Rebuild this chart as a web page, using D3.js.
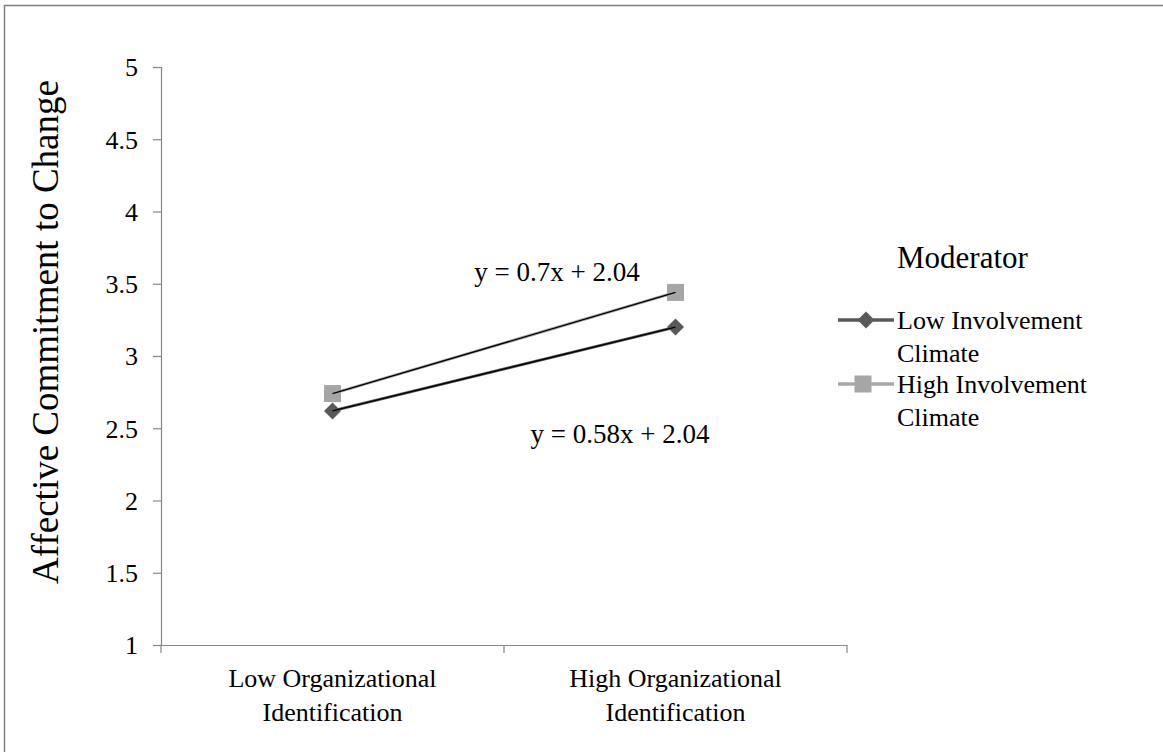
<!DOCTYPE html>
<html>
<head>
<meta charset="utf-8">
<script src="https://cdn.jsdelivr.net/npm/d3@7"></script>
<style>
  body { margin: 0; background: #fff; }
  text { font-family: "Liberation Serif", "Times New Roman", serif; fill: #000; }
</style>
</head>
<body>
<div id="chart-area"></div>
<script>
// data
var categories = ["Low Organizational|Identification", "High Organizational|Identification"];
var seriesNames = ["Low Involvement|Climate", "High Involvement|Climate"];
var lowValues = [2.62, 3.20];
var highValues = [2.74, 3.44];
var slopes = [0.58, 0.7];
var intercepts = [2.04, 2.04];
var yTicks = [1, 1.5, 2, 2.5, 3, 3.5, 4, 4.5, 5];

var width = 1163, height = 752;
var margin = {top: 67, left: 161};
var innerWidth = 847 - 161;
var innerHeight = 645 - 67;

var svg = d3.select("#chart-area").append("svg")
  .attr("width", width)
  .attr("height", height);

// border (top and left edges only show)
svg.append("path")
  .attr("d", "M4.5," + height + "V5.5H" + width)
  .attr("fill", "none")
  .attr("stroke", "#7f7f7f")
  .attr("stroke-width", 1.5);

var g = svg.append("g")
  .attr("transform", "translate(" + margin.left + "," + margin.top + ")");

// scales
var x = d3.scaleBand().domain(categories).range([0, innerWidth]);
var y = d3.scaleLinear().domain([1, 5]).range([innerHeight, 0]);

// y axis
var yAxis = g.append("g").call(d3.axisLeft(y).tickValues(yTicks).tickSize(8).tickPadding(15)
  .tickFormat(d3.format("")));
yAxis.attr("font-family", null).attr("font-size", null);
yAxis.select(".domain").attr("stroke", "#868686").attr("stroke-width", 1.2);
yAxis.selectAll(".tick line").attr("stroke", "#868686").attr("stroke-width", 1.2);
yAxis.selectAll(".tick text").style("font-size", "26px").attr("dy", "0.34em");

// x axis
var xAxis = g.append("g").attr("transform", "translate(0," + innerHeight + ")")
  .call(d3.axisBottom(x).tickSize(0).tickFormat(""));
xAxis.attr("font-family", null).attr("font-size", null);
xAxis.select(".domain").attr("stroke", "#868686").attr("stroke-width", 1.2);
var bounds = categories.map(c => x(c)).concat([innerWidth]);
xAxis.selectAll(".bound").data(bounds).enter().append("line")
  .attr("x1", d => d).attr("x2", d => d)
  .attr("y1", 0).attr("y2", 8)
  .attr("stroke", "#868686").attr("stroke-width", 1.2);

categories.forEach(function(c) {
  var lines = c.split("|");
  var t = xAxis.append("text")
    .attr("x", x(c) + x.bandwidth() / 2)
    .attr("y", 42)
    .attr("text-anchor", "middle")
    .style("font-size", "26px");
  lines.forEach(function(l, i) {
    t.append("tspan").attr("x", x(c) + x.bandwidth() / 2).attr("dy", i ? 34 : 0).text(l);
  });
});

// axis title
g.append("text")
  .attr("transform", "translate(-103," + (innerHeight / 2 - 24) + ") rotate(-90)")
  .attr("text-anchor", "middle")
  .style("font-size", "37px")
  .text("Affective Commitment to Change");

var cx = d => x(d) + x.bandwidth() / 2;
var series = [
  {name: seriesNames[0], values: lowValues, color: "#595959", shape: "diamond"},
  {name: seriesNames[1], values: highValues, color: "#a6a6a6", shape: "square"}
];

function marker(sel, s) {
  if (s.shape === "square") {
    sel.append("rect").attr("x", -8.5).attr("y", -8.5).attr("width", 17).attr("height", 17)
      .attr("fill", s.color);
  } else {
    sel.append("rect").attr("x", -6).attr("y", -6).attr("width", 12).attr("height", 12)
      .attr("transform", "rotate(45)")
      .attr("fill", s.color);
  }
}

var line = d3.line().x(d => cx(d.c)).y(d => y(d.v));

series.forEach(function(s, i) {
  var pts = categories.map((c, j) => ({c: c, v: s.values[j]}));
  g.append("path").datum(pts)
    .attr("d", line)
    .attr("fill", "none")
    .attr("stroke", s.color)
    .attr("stroke-width", 3);
  g.selectAll(".m" + i).data(pts).enter().append("g")
    .attr("transform", d => "translate(" + cx(d.c) + "," + y(d.v) + ")")
    .each(function() { marker(d3.select(this), s); });
});

// trendlines (from equation, x = 1, 2)
series.forEach(function(s, i) {
  var pts = categories.map((c, j) => ({c: c, v: slopes[i] * (j + 1) + intercepts[i]}));
  g.append("path").datum(pts)
    .attr("d", line)
    .attr("fill", "none")
    .attr("stroke", "#000")
    .attr("stroke-width", 1.3);
});

// equation labels
svg.append("text").attr("x", 557).attr("y", 281).attr("text-anchor", "middle")
  .style("font-size", "27px").text("y = 0.7x + 2.04");
svg.append("text").attr("x", 620).attr("y", 443).attr("text-anchor", "middle")
  .style("font-size", "27px").text("y = 0.58x + 2.04");

// legend
var legend = svg.append("g").attr("transform", "translate(838,0)");
legend.append("text").attr("x", 59).attr("y", 268)
  .style("font-size", "31px").text("Moderator");

var legY = [320, 384];
series.forEach(function(s, i) {
  var ly = legY[i];
  legend.append("line").attr("x1", 0).attr("x2", 56).attr("y1", ly).attr("y2", ly)
    .attr("stroke", s.color).attr("stroke-width", 3.5);
  marker(legend.append("g").attr("transform", "translate(" + (i === 0 ? 28 : 25) + "," + ly + ")"), s);
  var t = legend.append("text").attr("x", 59).attr("y", ly + 9).style("font-size", "26px");
  s.name.split("|").forEach(function(l, k) {
    t.append("tspan").attr("x", 59).attr("dy", k ? 33 : 0).text(l);
  });
});
</script>
</body>
</html>
